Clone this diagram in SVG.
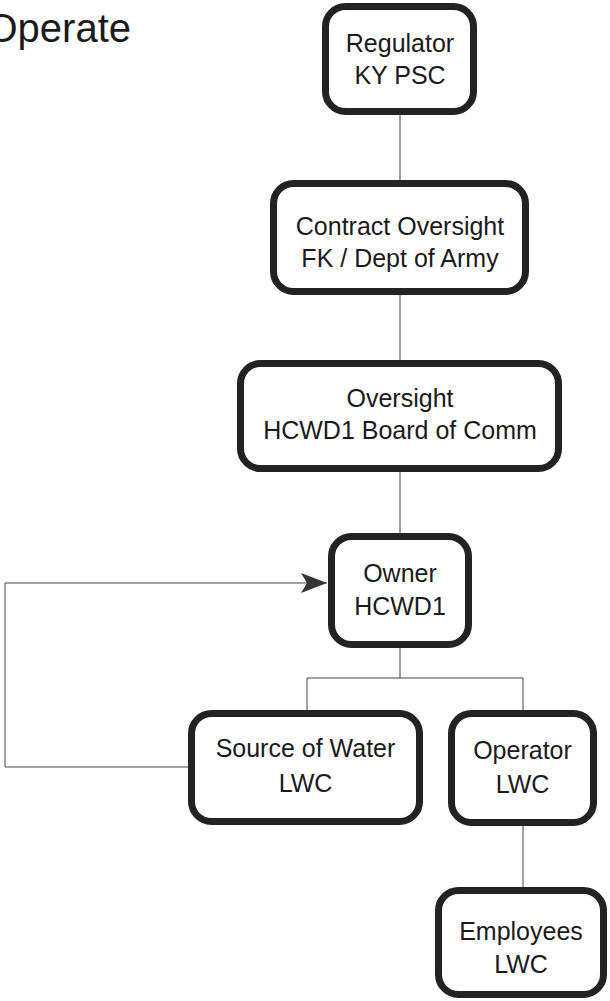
<svg xmlns="http://www.w3.org/2000/svg" width="610" height="1001" viewBox="0 0 610 1001">
<style>
.box{fill:#fff;stroke:#222;stroke-width:7}
.lbl{font-family:"Liberation Sans",Arial,sans-serif;font-size:25px;fill:#1a1a1a;text-anchor:middle}
.ttl{font-family:"Liberation Sans",Arial,sans-serif;font-size:40px;fill:#1a1a1a;text-anchor:end}
.conn{fill:none;stroke:#444;stroke-width:1}
</style>
<defs>
<marker id="arr" markerUnits="userSpaceOnUse" markerWidth="26" markerHeight="22" refX="26" refY="11" orient="auto">
<path d="M0,1 L26,11 L0,21 L6,11 z" fill="#333"/>
</marker>
</defs>
<rect width="610" height="1001" fill="#fff"/>
<text class="ttl" x="131" y="42">Operate</text>
<g id="connectors">
<path class="conn" d="M400,115 V180"/>
<path class="conn" d="M400,295 V360"/>
<path class="conn" d="M400,472 V533"/>
<path class="conn" d="M400,648 V678 M307,710 V678 H523 V710"/>
<path class="conn" d="M523,826 V887"/>
<path class="conn" d="M188,767 H5 V583 H327" marker-end="url(#arr)"/>
</g>
<g id="regulator">
<rect class="box" x="325.5" y="6.5" width="148" height="105" rx="20"/>
<text class="lbl" x="400" y="52">Regulator</text>
<text class="lbl" x="400" y="84">KY PSC</text>
</g>
<g id="contract">
<rect class="box" x="273.5" y="183.5" width="252" height="108" rx="20"/>
<text class="lbl" x="400" y="235">Contract Oversight</text>
<text class="lbl" x="400" y="267">FK / Dept of Army</text>
</g>
<g id="oversight">
<rect class="box" x="240.5" y="363.5" width="318" height="105" rx="20"/>
<text class="lbl" x="400" y="407">Oversight</text>
<text class="lbl" x="400" y="439">HCWD1 Board of Comm</text>
</g>
<g id="owner">
<rect class="box" x="331.5" y="536.5" width="137" height="108" rx="20"/>
<text class="lbl" x="400" y="582">Owner</text>
<text class="lbl" x="400" y="615">HCWD1</text>
</g>
<g id="source">
<rect class="box" x="191.5" y="713.5" width="228" height="108" rx="20"/>
<text class="lbl" x="305.5" y="757">Source of Water</text>
<text class="lbl" x="305.5" y="792">LWC</text>
</g>
<g id="operator">
<rect class="box" x="451.5" y="713.5" width="142" height="109" rx="20"/>
<text class="lbl" x="522.5" y="759">Operator</text>
<text class="lbl" x="522.5" y="793">LWC</text>
</g>
<g id="employees">
<rect class="box" x="438.5" y="890.5" width="165" height="104" rx="20"/>
<text class="lbl" x="521" y="940">Employees</text>
<text class="lbl" x="521" y="973">LWC</text>
</g>
</svg>
